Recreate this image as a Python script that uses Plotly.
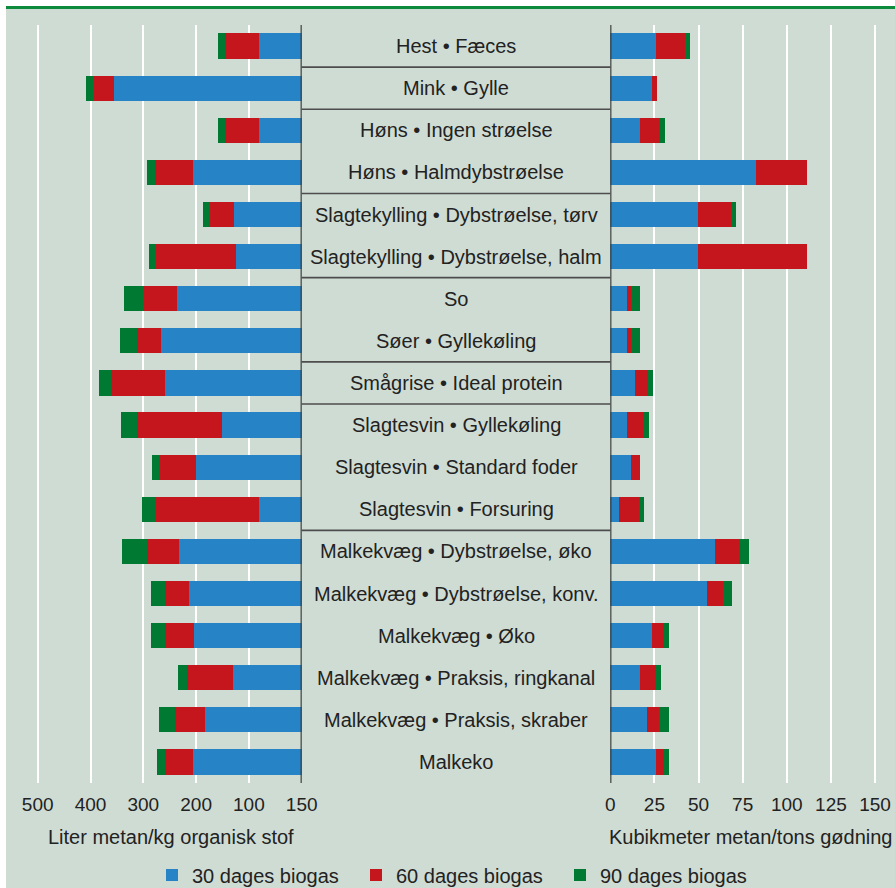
import plotly.graph_objects as go

categories = [
    "Hest • Fæces",
    "Mink • Gylle",
    "Høns • Ingen strøelse",
    "Høns • Halmdybstrøelse",
    "Slagtekylling • Dybstrøelse, tørv",
    "Slagtekylling • Dybstrøelse, halm",
    "So",
    "Søer • Gyllekøling",
    "Smågrise • Ideal protein",
    "Slagtesvin • Gyllekøling",
    "Slagtesvin • Standard foder",
    "Slagtesvin • Forsuring",
    "Malkekvæg • Dybstrøelse, øko",
    "Malkekvæg • Dybstrøelse, konv.",
    "Malkekvæg • Øko",
    "Malkekvæg • Praksis, ringkanal",
    "Malkekvæg • Praksis, skraber",
    "Malkeko",
]
groups = ["Hest", "Mink", "Høns", "Høns", "Slagtekylling", "Slagtekylling",
          "So", "So", "Smågrise", "Slagtesvin", "Slagtesvin", "Slagtesvin",
          "Malkekvæg", "Malkekvæg", "Malkekvæg", "Malkekvæg", "Malkekvæg", "Malkekvæg"]

series_names = ["30 dages biogas", "60 dages biogas", "90 dages biogas"]

# Liter metan/kg organisk stof (segment lengths)
left_30 = [81, 355, 81, 206, 128, 124, 236, 266, 258, 151, 200, 81, 232, 213, 204, 130, 183, 206]
left_60 = [64, 39, 64, 71, 46, 152, 63, 45, 104, 161, 70, 195, 61, 46, 55, 87, 57, 52]
left_90 = [14, 14, 14, 16, 13, 13, 37, 34, 21, 30, 14, 27, 47, 27, 27, 17, 30, 16]

# Kubikmeter metan/tons gødning (segment lengths)
right_30 = [26, 23.6, 17, 82.6, 49.5, 49.5, 9.5, 9.5, 14, 9.5, 11.7, 4.9, 59.3, 54.8, 23.6, 17, 20.6, 26]
right_60 = [16.6, 2.9, 11.3, 28.9, 18.9, 61.9, 2.3, 2.3, 7.4, 9.6, 5.2, 11.4, 14.1, 9.1, 6.8, 9.1, 6.8, 4.5]
right_90 = [2.7, 0, 2.8, 0, 2.7, 0, 5.2, 5.2, 2.8, 2.8, 0, 2.8, 5.1, 5.1, 2.9, 2.8, 5.9, 2.9]

left_tickvals = [500, 400, 300, 200, 100, 0]
left_ticktext = ["500", "400", "300", "200", "100", "150"]
right_tickvals = [0, 25, 50, 75, 100, 125, 150]
right_ticktext = ["0", "25", "50", "75", "100", "125", "150"]

left_title = "Liter metan/kg organisk stof"
right_title = "Kubikmeter metan/tons gødning"

colors = ["#2583c6", "#c4161c", "#007a33"]
BG = "#cfdcd4"
TXT = "#222222"
FONT = "Liberation Sans, Arial, sans-serif"

W, H = 895, 888
left_px, mid_px = 301.7, 610.3
plot_top, plot_bot = 25, 783

fig = go.Figure()

for vals, name, col in zip([left_30, left_60, left_90], series_names, colors):
    fig.add_trace(go.Bar(
        y=categories, x=vals, orientation="h", name=name,
        marker=dict(color=col, line=dict(width=0)),
        xaxis="x", yaxis="y", legendgroup=name, showlegend=True,
        width=0.6,
    ))
for vals, name, col in zip([right_30, right_60, right_90], series_names, colors):
    fig.add_trace(go.Bar(
        y=categories, x=vals, orientation="h", name=name,
        marker=dict(color=col, line=dict(width=0)),
        xaxis="x2", yaxis="y", legendgroup=name, showlegend=False,
        width=0.6,
    ))

shapes = []
# background panel (white margin at top and left)
shapes.append(dict(type="rect", xref="paper", yref="paper",
                   x0=6 / W, x1=1, y0=0, y1=1 - 6 / H,
                   fillcolor=BG, line=dict(width=0), layer="below"))
# top green rule
shapes.append(dict(type="rect", xref="paper", yref="paper",
                   x0=6 / W, x1=1, y0=1 - 9 / H, y1=1 - 6 / H,
                   fillcolor="#0d8a3c", line=dict(width=0), layer="above"))
# group separators in middle panel
for i in range(len(groups) - 1):
    if groups[i] != groups[i + 1]:
        shapes.append(dict(type="line", xref="x3 domain", yref="y",
                           x0=0, x1=1, y0=i + 0.5, y1=i + 0.5,
                           line=dict(color="#4d4d4d", width=1.6), layer="above"))
# axis lines at zero of both value axes
shapes.append(dict(type="line", xref="x", yref="y domain", x0=0, x1=0, y0=0, y1=1,
                   line=dict(color="#333333", width=2.2), layer="above"))
shapes.append(dict(type="line", xref="x2", yref="y domain", x0=0, x1=0, y0=0, y1=1,
                   line=dict(color="#333333", width=2.2), layer="above"))

annotations = []
for c in categories:
    annotations.append(dict(xref="x3", yref="y", x=0.5, y=c, text=c, showarrow=False,
                            font=dict(family=FONT, size=20, color=TXT),
                            xanchor="center", yanchor="middle"))
annotations.append(dict(xref="paper", yref="paper", x=171 / W, y=(H - 837) / H,
                        text=left_title, showarrow=False,
                        font=dict(family=FONT, size=20, color=TXT),
                        xanchor="center", yanchor="middle"))
annotations.append(dict(xref="paper", yref="paper", x=751 / W, y=(H - 837) / H,
                        text=right_title, showarrow=False,
                        font=dict(family=FONT, size=20, color=TXT),
                        xanchor="center", yanchor="middle"))

left_range = [left_px / 0.528, 0]
right_range = [0, (W - mid_px) / 1.765]

fig.update_layout(
    width=W, height=H,
    autosize=False,
    margin=dict(l=0, r=0, t=0, b=0, autoexpand=False),
    paper_bgcolor="white",
    plot_bgcolor="rgba(0,0,0,0)",
    barmode="stack",
    bargap=0.4,
    font=dict(family=FONT, size=20, color=TXT),
    xaxis=dict(domain=[0, left_px / W], range=left_range, anchor="y",
               tickvals=left_tickvals, ticktext=left_ticktext,
               showgrid=True, gridcolor="white", gridwidth=1.6,
               zeroline=False, showline=False, ticks="",
               tickfont=dict(family=FONT, size=19, color=TXT), ticklabelstandoff=8),
    xaxis2=dict(domain=[mid_px / W, 1], range=right_range, anchor="y",
                tickvals=right_tickvals, ticktext=right_ticktext,
                showgrid=True, gridcolor="white", gridwidth=1.6,
                zeroline=False, showline=False, ticks="",
                tickfont=dict(family=FONT, size=19, color=TXT), ticklabelstandoff=8),
    xaxis3=dict(domain=[left_px / W, mid_px / W], range=[0, 1], anchor="y",
                visible=False, fixedrange=True),
    yaxis=dict(domain=[(H - plot_bot) / H, (H - plot_top) / H], type="category",
               categoryorder="array", categoryarray=categories,
               range=[len(categories) - 0.5, -0.5], visible=False),
    legend=dict(orientation="h", x=152 / W, xanchor="left", y=(H - 875) / H, yanchor="middle",
                bgcolor="rgba(0,0,0,0)", traceorder="normal",
                font=dict(family=FONT, size=20, color=TXT),
                entrywidth=159, entrywidthmode="pixels"),
    shapes=shapes,
    annotations=annotations,
)

fig.write_html(
    "out.html",
    config={"responsive": False, "displayModeBar": False},
    post_script="document.body.style.margin='0';document.body.style.overflow='hidden';",
)
